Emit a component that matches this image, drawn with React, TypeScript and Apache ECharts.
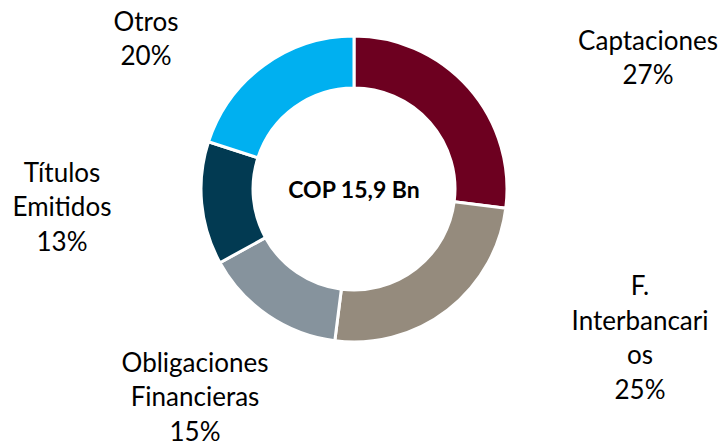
import React, { useEffect, useRef } from "react";
import * as echarts from "echarts";

const categories = ["Captaciones", "F.\nInterbancari\nos", "Obligaciones\nFinancieras", "Títulos\nEmitidos", "Otros"];
const shares = [27, 25, 15, 13, 20];
const colors = ["#6D0020", "#958B7D", "#86939D", "#023A52", "#00B0F0"];
const centerLabel = "COP 15,9 Bn";
const labelPos: [number, number][] = [
  [648, 57],
  [640, 337],
  [195, 396],
  [62, 206],
  [146, 38],
];

export default function App() {
  const ref = useRef<HTMLDivElement>(null);
  useEffect(() => {
    document.body.style.margin = "0";
    const chart = echarts.init(ref.current!, null, { renderer: "svg" });
    chart.setOption({
      animation: false,
      backgroundColor: "#ffffff",
      graphic: [
        {
          type: "text",
          x: 354,
          y: 189,
          style: {
            text: centerLabel,
            fontFamily: "Lato",
            fontWeight: "bold",
            fontSize: 23,
            fill: "#000",
            align: "center",
            verticalAlign: "middle",
          },
        },
      ],
      series: [
        {
          type: "pie",
          center: [354, 189],
          radius: [101, 153],
          startAngle: 90,
          clockwise: true,
          itemStyle: { borderColor: "#ffffff", borderWidth: 3 },
          label: {
            show: true,
            formatter: (p: any) => `${p.name}\n${p.value}%`,
            fontFamily: "Lato",
            fontSize: 26,
            lineHeight: 34.5,
            color: "#000",
            align: "center",
          },
          labelLine: { show: false },
          labelLayout: (params: any) => {
            const pos = labelPos[params.dataIndex];
            return { x: pos[0], y: pos[1], align: "center", verticalAlign: "middle" };
          },
          emphasis: { disabled: true },
          data: categories.map((c, i) => ({ name: c, value: shares[i], itemStyle: { color: colors[i] } })),
        },
      ],
    });
    return () => chart.dispose();
  }, []);
  return <div ref={ref} style={{ width: 727, height: 445 }} />;
}
